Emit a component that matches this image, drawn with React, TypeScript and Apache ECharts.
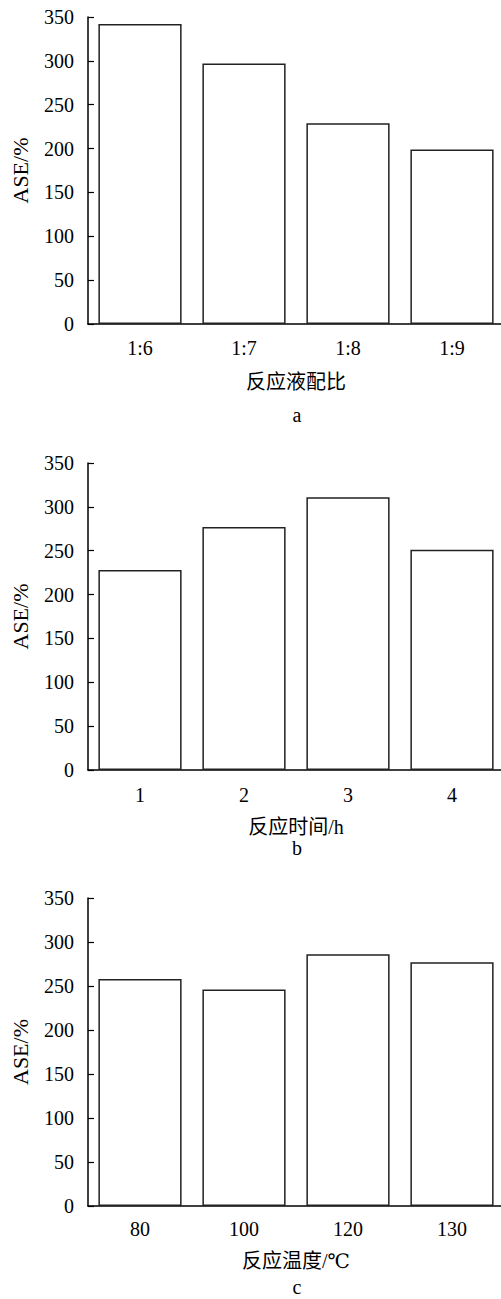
import React, { useEffect, useRef } from "react";
import * as echarts from "echarts";

const catsA = ["1:6", "1:7", "1:8", "1:9"];
const valsA = [342, 297, 229, 199];
const catsB = ["1", "2", "3", "4"];
const valsB = [228, 277, 311, 251];
const catsC = ["80", "100", "120", "130"];
const valsC = [258, 246, 286, 277];
const xNames = ["反应液配比", "反应时间/h", "反应温度/℃"];
const panelLetters = ["a", "b", "c"];
const yName = "ASE/%";

const FONT = "'Liberation Serif', 'DejaVu Serif', 'Noto Sans CJK SC', serif";

export default function App() {
  const ref = useRef<HTMLDivElement>(null);
  useEffect(() => {
    document.body.style.margin = "0";
    const chart = echarts.init(ref.current!, null, { renderer: "svg" });
    const grids = [
      { left: 88, top: 17, width: 416, height: 307, outerBoundsMode: "none", containLabel: false },
      { left: 88, top: 463, width: 416, height: 307, outerBoundsMode: "none", containLabel: false },
      { left: 88, top: 898, width: 416, height: 308, outerBoundsMode: "none", containLabel: false },
    ];
    const cats = [catsA, catsB, catsC];
    const vals = [valsA, valsB, valsC];
    const nameGaps = [48, 47, 45];
    const labelMargins = [14, 15, 13];
    const letterY = [415, 848, 1287];
    const option: any = {
      animation: false,
      backgroundColor: "#fff",
      grid: grids,
      xAxis: cats.map((c, i) => ({
        type: "category",
        gridIndex: i,
        data: c,
        name: xNames[i],
        nameLocation: "middle",
        nameGap: nameGaps[i],
        nameTextStyle: { fontFamily: FONT, fontSize: 20, color: "#000" },
        axisLine: { lineStyle: { color: "#000", width: 1.5 } },
        axisTick: { show: true, inside: true, length: 5, alignWithLabel: true, lineStyle: { color: "#000", width: 1.2 } },
        axisLabel: { fontFamily: FONT, fontSize: 20, color: "#000", margin: labelMargins[i] },
        splitLine: { show: false },
      })),
      yAxis: cats.map((_, i) => ({
        type: "value",
        gridIndex: i,
        min: 0,
        max: 350,
        interval: 50,
        name: yName,
        nameLocation: "middle",
        nameGap: 57,
        nameTextStyle: { fontFamily: FONT, fontSize: 22, color: "#000" },
        axisLine: { show: true, lineStyle: { color: "#000", width: 1.5 } },
        axisTick: { show: true, inside: true, length: 6, lineStyle: { color: "#000", width: 1.2 } },
        axisLabel: { fontFamily: FONT, fontSize: 20, color: "#000", margin: 14 },
        splitLine: { show: false },
      })),
      series: vals.map((v, i) => ({
        type: "bar",
        xAxisIndex: i,
        yAxisIndex: i,
        data: v,
        barCategoryGap: "20%",
        itemStyle: { color: "#fff", borderColor: "#222", borderWidth: 1.5 },
      })),
      graphic: panelLetters.map((t, i) => ({
        type: "text",
        x: 297,
        y: letterY[i],
        style: {
          text: t,
          fontFamily: FONT,
          fontSize: 20,
          lineHeight: 16,
          fill: "#000",
          align: "center",
          verticalAlign: "middle",
        },
      })),
    };
    chart.setOption(option);
    return () => chart.dispose();
  }, []);
  return <div ref={ref} style={{ width: 501, height: 1299 }} />;
}
